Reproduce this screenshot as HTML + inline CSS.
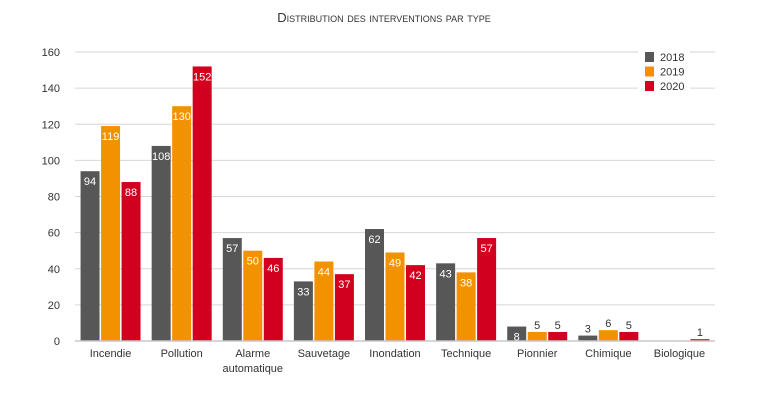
<!DOCTYPE html>
<html><head><meta charset="utf-8"><style>
body{margin:0;background:#fff;font-family:"Liberation Sans",sans-serif;}
svg text{font-family:"Liberation Sans",sans-serif;}
</style></head><body>
<svg width="768" height="402" id="c">
<text x="384" y="22" text-anchor="middle" font-size="13" fill="#333" style="font-variant:small-caps">Distribution des interventions par type</text>
</svg>
<script>
const categories=["Incendie","Pollution","Alarme|automatique","Sauvetage","Inondation","Technique","Pionnier","Chimique","Biologique"];
const s2018=[94,108,57,33,62,43,8,3,0];
const s2019=[119,130,50,44,49,38,5,6,0];
const s2020=[88,152,46,37,42,57,5,5,1];
const ticks=[0,20,40,60,80,100,120,140,160];
const years=["2018","2019","2020"];
const colors=["#575757","#f39200","#d2001e"];
const svg=document.getElementById('c');const NS="http://www.w3.org/2000/svg";
const x0=75,x1=715,y0=341,yTop=52,vmax=160;
const y=v=>y0-(v/vmax)*(y0-yTop);
const slot=(x1-x0)/categories.length;
function mk(t,a,p){const e=document.createElementNS(NS,t);for(const k in a)e.setAttribute(k,a[k]);(p||svg).appendChild(e);return e;}
ticks.forEach(t=>{
 const yy=y(t);
 if(t>0){
  const inLeg=(t>=140);
  if(inLeg){const g=mk('line',{x1:x0,x2:638,y1:yy,y2:yy,stroke:'#d6d6dc','stroke-width':1});
   const g2=mk('line',{x1:690,x2:x1,y1:yy,y2:yy,stroke:'#d6d6dc','stroke-width':1});}
  else{const g=mk('line',{x1:x0,x2:x1,y1:yy,y2:yy,stroke:'#d6d6dc','stroke-width':1});}
 }
 const l=mk('text',{x:60,y:yy+4,'text-anchor':'end','font-size':11,fill:'#333'});l.textContent=t;
 
});
const series=[s2018,s2019,s2020];
const bw=19,gap=1.5;
categories.forEach((c,i)=>{
 const gx=x0+i*slot+(slot-(3*bw+2*gap))/2;
 series.forEach((s,j)=>{
  const v=s[i];if(v<=0)return;
  const bx=gx+j*(bw+gap);
  const r=mk('rect',{x:bx,y:y(v),width:bw,height:y0-y(v),fill:colors[j]});
  
  
  const inside=v>=8;
  const t=mk('text',{x:bx+bw/2,y:inside?y(v)+14:y(v)-3,'text-anchor':'middle','font-size':11,fill:inside?'#fff':'#333'});
  t.textContent=v;
 });
 const lines=c.split('|');
 lines.forEach((ln,k)=>{
  const t=mk('text',{x:x0+i*slot+slot/2,y:357+k*15,'text-anchor':'middle','font-size':11,fill:'#333'});
  t.textContent=ln;
 });
});
const ax=mk('line',{x1:x0,x2:x1,y1:y0,y2:y0,stroke:'#c8c8cc','stroke-width':1.5});

years.forEach((yr,j)=>{
 const ly=57+j*14.5;
 const g=mk('g',{});
 mk('rect',{x:645,y:ly-5,width:9,height:10,fill:colors[j]},g);
 const t=mk('text',{x:660,y:ly+4,'font-size':11,fill:'#333'},g);t.textContent=yr;
});
</script>
</body></html>
